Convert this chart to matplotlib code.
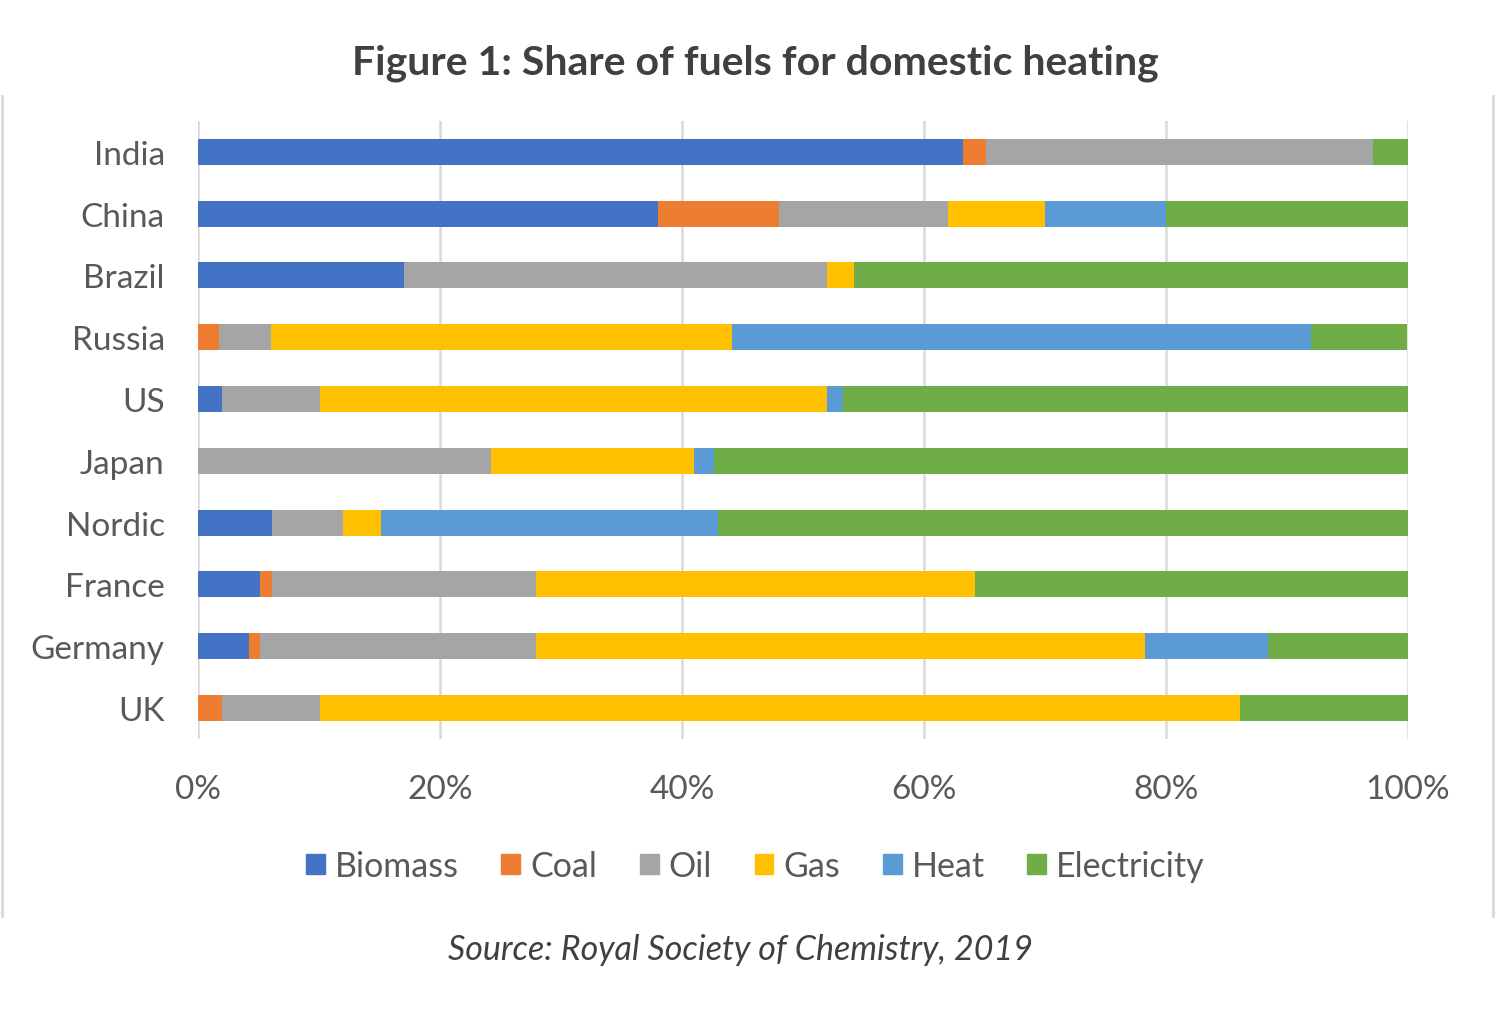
import matplotlib
matplotlib.use("Agg")
import matplotlib.pyplot as plt
import numpy as np
from matplotlib.lines import Line2D
from matplotlib.ticker import FuncFormatter

# data (percent of domestic heating)
countries = ["India", "China", "Brazil", "Russia", "US", "Japan",
             "Nordic", "France", "Germany", "UK"]
fuels = ["Biomass", "Coal", "Oil", "Gas", "Heat", "Electricity"]
biomass = [63.2, 38.0, 17.0, 0.0, 2.0, 0.0, 6.1, 5.1, 4.2, 0.0]
coal = [1.9, 10.0, 0.0, 1.7, 0.0, 0.0, 0.0, 1.0, 0.9, 2.0]
oil = [32.0, 14.0, 35.0, 4.3, 8.1, 24.2, 5.9, 21.8, 22.8, 8.1]
gas = [0.0, 8.0, 2.2, 38.1, 41.9, 16.8, 3.1, 36.3, 50.4, 76.0]
heat = [0.0, 10.0, 0.0, 47.9, 1.3, 1.6, 27.9, 0.0, 10.1, 0.0]
electricity = [2.9, 20.0, 45.8, 7.9, 46.7, 57.4, 57.0, 35.8, 11.6, 13.9]
colors = ["#4472C4", "#ED7D31", "#A5A5A5", "#FFC000", "#5B9BD5", "#70AD47"]

title = "Figure 1: Share of fuels for domestic heating"
source = "Source: Royal Society of Chemistry, 2019"

plt.rcParams["font.family"] = ["Lato", "DejaVu Sans"]

fig = plt.figure(figsize=(14.96, 10.12), dpi=100)
ax = fig.add_axes([0.1324, 0.2688, 0.8088, 0.6107])

series = [biomass, coal, oil, gas, heat, electricity]
y = np.arange(len(countries))
left = np.zeros(len(countries))
for name, vals, col in zip(fuels, series, colors):
    vals = np.array(vals)
    ax.barh(y, vals, left=left, height=0.42, color=col, label=name,
            linewidth=0, zorder=3)
    left += vals

ax.set_xlim(0, 100)
ax.set_ylim(9.5, -0.5)
ax.set_xticks(np.arange(0, 101, 20))
ax.xaxis.set_major_formatter(FuncFormatter(lambda v, p: f"{v:.0f}%"))
ax.set_yticks(y)
ax.set_yticklabels(countries)
ax.grid(axis="x", color="#d9d9d9", linewidth=1.8, zorder=0)
for s in ax.spines.values():
    s.set_visible(False)
ax.tick_params(axis="both", length=0, colors="#595959", labelsize=24)
ax.tick_params(axis="x", pad=25)
ax.tick_params(axis="y", pad=24)

fig.text(0.505, 0.9377, title, ha="center", va="center", fontsize=29.5,
         fontweight="bold", color="#404040")

handles = [plt.Rectangle((0, 0), 1, 1, color=c) for c in colors]
fig.legend(handles, fuels, loc="center", bbox_to_anchor=(0.505, 1 - 867 / 1012),
           ncol=6, frameon=False, fontsize=24.5, labelcolor="#595959",
           handlelength=0.55, handleheight=0.55, handletextpad=0.3,
           columnspacing=1.25)

fig.text(0.495, 1 - 950 / 1012, source, ha="center", va="center", fontsize=24.5,
         style="italic", color="#404040")

# light frame sides around the chart
for xf in (2 / 1496, 1493 / 1496):
    fig.add_artist(Line2D([xf, xf], [1 - 97 / 1012, 1 - 917 / 1012],
                          color="#d9d9d9", linewidth=2))

fig.savefig("out.png", dpi=100, facecolor="white")
